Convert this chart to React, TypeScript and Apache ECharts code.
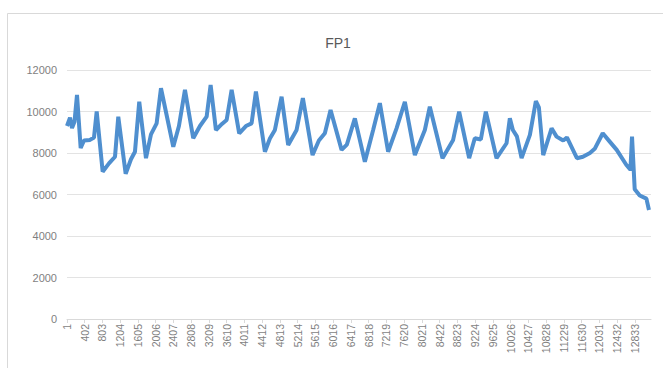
import React, { useEffect, useRef } from "react";
import * as echarts from "echarts";

const title = "FP1";
const xTickLabels = [
  1, 402, 803, 1204, 1605, 2006, 2407, 2808, 3209, 3610, 4011, 4412, 4813, 5214, 5615, 6016, 6417,
  6818, 7219, 7620, 8021, 8422, 8823, 9224, 9625, 10026, 10427, 10828, 11229, 11630, 12031, 12432, 12833,
];
const sampleIndex = [
  1, 69, 114, 170, 227, 310, 385, 521, 611, 672, 807, 950, 1086, 1160, 1327, 1447, 1537, 1634, 1786,
  1899, 2027, 2125, 2403, 2531, 2667, 2854, 3006, 3157, 3247, 3367, 3503, 3609, 3722, 3893, 4045,
  4173, 4271, 4474, 4587, 4700, 4851, 5000, 5190, 5332, 5551, 5694, 5829, 5958, 6207, 6326, 6507,
  6733, 6920, 7072, 7259, 7449, 7637, 7863, 8089, 8201, 8488, 8728, 8864, 9090, 9218, 9354, 9467,
  9709, 9935, 10010, 10078, 10169, 10275, 10463, 10598, 10666, 10764, 10953, 11066, 11216, 11300,
  11526, 11662, 11820, 11928, 12109, 12267, 12425, 12644, 12735, 12771, 12832, 12945, 13096, 13154,
];
const fp1Values = [
  9300, 9700, 9200, 9500, 10800, 8240, 8600, 8630, 8750, 10000, 7100, 7500, 7820, 9750, 7000, 7700,
  8060, 10470, 7750, 8900, 9430, 11120, 8300, 9300, 11040, 8710, 9300, 9750, 11280, 9110, 9400,
  9590, 11040, 8950, 9300, 9430, 10960, 8060, 8700, 9110, 10710, 8390, 9110, 10650, 7900, 8600,
  8950, 10070, 8150, 8400, 9670, 7580, 9110, 10400, 8060, 9190, 10470, 7900, 9110, 10230, 7750,
  8630, 9990, 7750, 8710, 8650, 9990, 7750, 8470, 9670, 9110, 8800, 7750, 8870, 10500, 10200, 7900,
  9190, 8790, 8600, 8750, 7750, 7820, 8000, 8200, 8950, 8550, 8150, 7420, 7200, 8790, 6250, 5950,
  5800, 5250,
];

export default function App() {
  const ref = useRef<HTMLDivElement>(null);
  useEffect(() => {
    if (!ref.current) return;
    const chart = echarts.init(ref.current, undefined, { renderer: "svg" });
    const data = sampleIndex.map((x, i) => [x, fp1Values[i]]);
    chart.setOption({
      animation: false,
      backgroundColor: "#ffffff",
      title: {
        text: title,
        left: 333,
        top: 31,
        textAlign: "center",
        textStyle: {
          fontFamily: "Liberation Sans",
          fontSize: 14,
          fontWeight: "normal",
          color: "#595959",
        },
      },
      graphic: [
        {
          type: "rect",
          shape: { x: 7.5, y: 13.5, width: 700, height: 400 },
          style: { fill: "none", stroke: "#d9d9d9", lineWidth: 1 },
          silent: true,
        },
      ],
      grid: { left: 67, right: 12, top: 70, bottom: 49, containLabel: false },
      xAxis: {
        type: "value",
        min: 1,
        max: 13200,
        splitLine: { show: false },
        axisLine: { show: true, lineStyle: { color: "#d9d9d9" } },
        axisTick: {
          show: true,
          length: 4,
          customValues: xTickLabels,
          lineStyle: { color: "#d9d9d9" },
        },
        axisLabel: {
          customValues: xTickLabels,
          formatter: (v: number) => String(v),
          rotate: 90,
          interval: 0,
          hideOverlap: false,
          showMinLabel: true,
          showMaxLabel: true,
          fontSize: 10.5,
          fontFamily: "Liberation Sans",
          color: "#7f7f7f",
          margin: 5,
        },
      },
      yAxis: {
        type: "value",
        min: 0,
        max: 12000,
        interval: 2000,
        axisLine: { show: false },
        axisTick: { show: false },
        splitLine: { lineStyle: { color: "#e3e3e3" } },
        axisLabel: {
          formatter: (v: number) => String(v),
          fontSize: 11,
          fontFamily: "Liberation Sans",
          color: "#7f7f7f",
          margin: 10,
        },
      },
      series: [
        {
          type: "line",
          data,
          showSymbol: false,
          lineStyle: { color: "#4f8fcf", width: 4 },
          itemStyle: { color: "#4f8fcf" },
        },
      ],
    });
    return () => chart.dispose();
  }, []);
  return (
    <div
      ref={ref}
      style={{ position: "fixed", left: 0, top: 0, width: 663, height: 368 }}
    />
  );
}
